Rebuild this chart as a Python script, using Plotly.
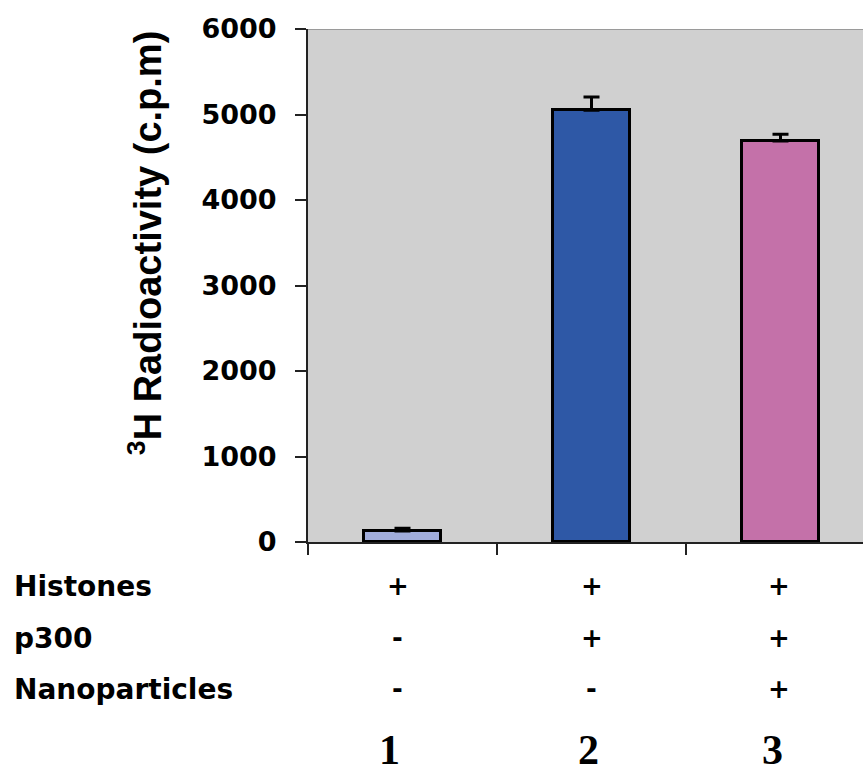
import plotly.graph_objects as go

# ---- data ----
lanes = [0, 1, 2]
lane_numbers = ["1", "2", "3"]
radioactivity = [130, 5050, 4690]
radio_error = [30, 155, 80]
bar_colors = ["#A0ACDA", "#2E58A6", "#C471A9"]

row_labels = ["Histones", "p300", "Nanoparticles"]
row_signs = [
    ["+", "+", "+"],
    ["-", "+", "+"],
    ["-", "-", "+"],
]
y_ticks = [0, 1000, 2000, 3000, 4000, 5000, 6000]

# ---- geometry ----
W, H = 863, 769
L, T = 308, 29
B_PX = 541.7
PW = W - L
PH = B_PX - T


def xp(px):
    return (px - L) / PW


def yp(py):
    return (B_PX - py) / PH


fig = go.Figure()
fig.add_trace(go.Bar(
    x=lanes,
    y=radioactivity,
    width=0.41,
    marker=dict(color=bar_colors, line=dict(color="black", width=3)),
    error_y=dict(type="data", symmetric=False, array=radio_error,
                 arrayminus=[0, 0, 0], color="black", thickness=3, width=8),
    showlegend=False,
))

# top border of plot area
fig.add_shape(type="line", xref="paper", yref="y", x0=0, x1=1, y0=6000, y1=6000,
              line=dict(color="#9a9a9a", width=2))

annotations = []
annotations.append(dict(
    text="<sup>3</sup>H Radioactivity (c.p.m)", xref="paper", yref="paper",
    x=xp(145), y=yp(243), textangle=-90, showarrow=False,
    xanchor="center", yanchor="middle",
    font=dict(family="Liberation Sans", size=38, color="black", weight="bold"),
))

row_y = [586, 638, 689]
label_font = dict(family="DejaVu Sans", size=28, color="black", weight="bold")
sign_font = dict(family="DejaVu Sans", size=26, color="black", weight="bold")
for lab, ry in zip(row_labels, row_y):
    annotations.append(dict(
        text=lab, xref="paper", yref="paper", x=xp(12), y=yp(ry),
        xanchor="left", yanchor="middle", showarrow=False, font=label_font,
    ))

sign_shift = [-5, 0, -2]
for signs, ry in zip(row_signs, row_y):
    for lane, s, sh in zip(lanes, signs, sign_shift):
        annotations.append(dict(
            text=s, xref="x", yref="paper", x=lane, y=yp(ry),
            xanchor="center", yanchor="middle", showarrow=False,
            xshift=sh, font=sign_font,
        ))

num_shift = [-13, -3, -8]
for lane, n, sh in zip(lanes, lane_numbers, num_shift):
    annotations.append(dict(
        text=n, xref="x", yref="paper", x=lane, y=yp(750),
        xanchor="center", yanchor="middle", showarrow=False, xshift=sh,
        font=dict(family="Liberation Serif", size=42, color="black", weight="bold"),
    ))

fig.update_layout(
    width=W, height=H,
    margin=dict(l=L, r=0, t=T, b=H - B_PX, pad=0),
    paper_bgcolor="white",
    plot_bgcolor="#D0D0D0",
    bargap=0,
    annotations=annotations,
    xaxis=dict(
        range=[-0.5, -0.5 + PW / 189.0],
        tickmode="array", tickvals=[-0.5, 0.5, 1.5, 2.5],
        showticklabels=False, ticks="outside", ticklen=11, tickwidth=2,
        tickcolor="#222222", showline=True, linecolor="#222222", linewidth=2,
        showgrid=False, zeroline=False, fixedrange=True,
    ),
    yaxis=dict(
        range=[0, 6000], tickmode="array", tickvals=y_ticks,
        ticks="outside", ticklen=11, tickwidth=2, tickcolor="#222222",
        showline=True, linecolor="#222222", linewidth=2,
        showgrid=False, zeroline=False, ticklabelstandoff=13,
        tickfont=dict(family="DejaVu Sans", size=27, color="black", weight="bold"),
    ),
)

fig.write_html(
    "out.html",
    config={"displayModeBar": False},
    post_script=(
        "document.body.style.margin='0';"
        "document.body.style.overflow='hidden';"
        "document.documentElement.style.overflow='hidden';"
    ),
)
